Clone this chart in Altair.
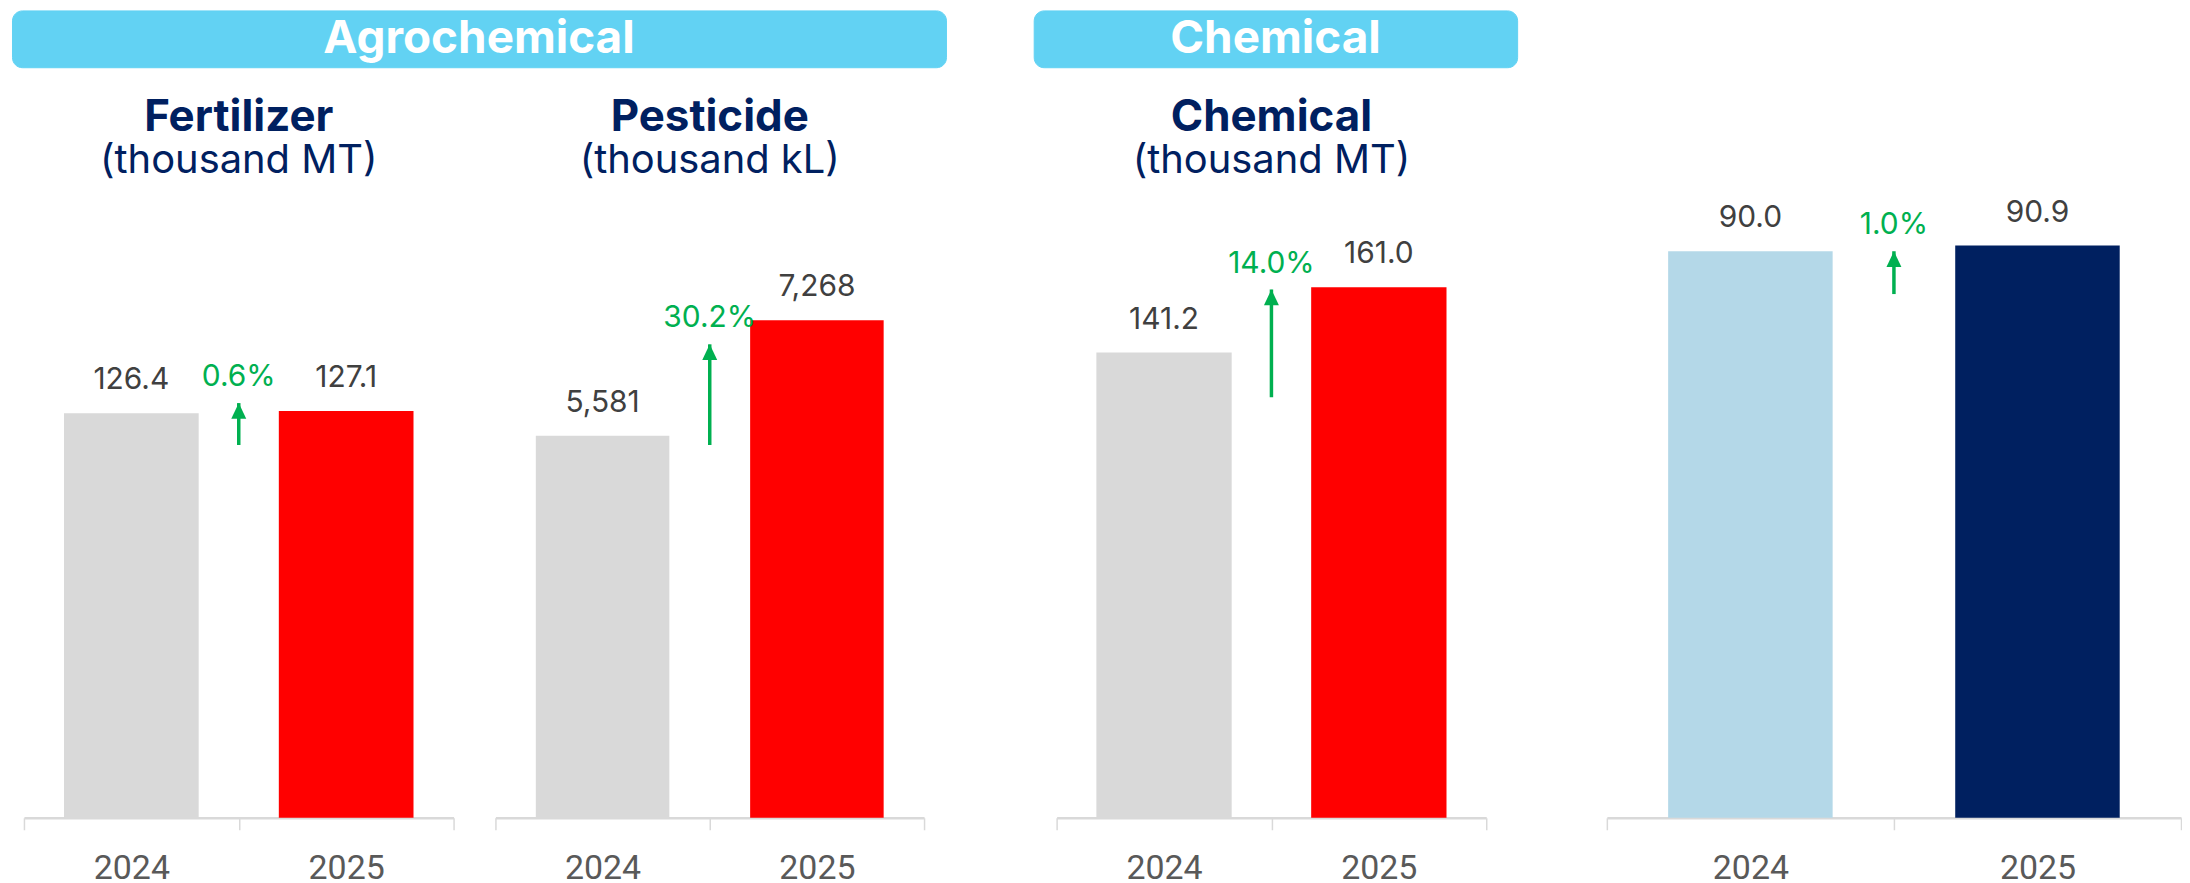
import altair as alt
import pandas as pd

# ---------------- data ----------------
years = ["2024", "2025"]
fert_values = [126.4, 127.1]
pest_values = [5581, 7268]
chem_values = [141.2, 161.0]
total_values = [90.0, 90.9]

growth_labels = ["0.6%", "30.2%", "14.0%", "1.0%"]
arrow_low = [116.5, 5447, 127.6, 83.2]
arrow_high = [129.6, 6918, 160.3, 90.0]
y_max = [192.2, 8986, 186.6, 97.7]

panel_titles = ["Fertilizer", "Pesticide", "Chemical"]
panel_units = ["(thousand MT)", "(thousand kL)", "(thousand MT)"]
banner_labels = ["Agrochemical", "Chemical"]
value_formats = [",.1f", ",.0f", ",.1f", ",.1f"]

# ---------------- styles ----------------
GRAY = "#d9d9d9"
RED = "#ff0000"
LIGHTBLUE = "#b4d8e8"
NAVY = "#002060"
GREEN = "#00b050"
BANNER = "#62d2f3"
H = 617
FONT = "Inter"


def make_panel(values, fmt, colors, growth, lo, hi, ymax, width, bar_band,
               title=None, unit=None, left_inset=0):
    bars_df = pd.DataFrame({"year": years, "value": values, "color": colors})
    arrow_df = pd.DataFrame({"year": ["2025"], "lo": [lo], "hi": [hi], "growth": [growth]})

    xaxis = alt.Axis(title=None, labelFontSize=34, labelColor="#595959", labelFont="Roboto",
                     labelPadding=22, tickSize=12, tickColor=GRAY, tickWidth=1.5,
                     domainColor=GRAY, domainWidth=2.5, tickBand="extent", labelAngle=0,
                     grid=False)
    if left_inset:
        xscale = alt.Scale(domain=years, paddingInner=0, paddingOuter=0,
                           range=[left_inset, width])
    else:
        xscale = alt.Scale(domain=years, paddingInner=0, paddingOuter=0)
    yscale = alt.Scale(domain=[0, ymax], nice=False, zero=True)

    def X(**kw):
        return alt.X("year:N", scale=xscale, axis=xaxis, **kw)

    def Y(field):
        return alt.Y(field, scale=yscale, axis=None)

    bars = alt.Chart(bars_df).mark_bar(width=alt.RelativeBandSize(bar_band)).encode(
        x=X(),
        y=Y("value:Q"),
        color=alt.Color("color:N", scale=None, legend=None),
    )
    labels = alt.Chart(bars_df).mark_text(font=FONT, fontSize=30, color="#404040",
                                          baseline="alphabetic", dy=-24).encode(
        x=X(),
        y=Y("value:Q"),
        text=alt.Text("value:Q", format=fmt),
    )
    shaft = alt.Chart(arrow_df).mark_rule(color=GREEN, strokeWidth=3.5).encode(
        x=X(bandPosition=0),
        y=Y("lo:Q"),
        y2="hi:Q",
    )
    head = alt.Chart(arrow_df).mark_point(shape="M0,0L-1,2.1L1,2.1Z", filled=True, size=225,
                                          color=GREEN, opacity=1, strokeWidth=0).encode(
        x=X(bandPosition=0),
        y=Y("hi:Q"),
    )
    pct = alt.Chart(arrow_df).mark_text(font=FONT, fontSize=30, color=GREEN,
                                        baseline="alphabetic", dy=-17).encode(
        x=X(bandPosition=0),
        y=Y("hi:Q"),
        text="growth:N",
    )
    layer = alt.layer(bars, labels, shaft, head, pct).properties(width=width, height=H)
    if title:
        layer = layer.properties(title=alt.TitleParams(
            text=title, subtitle=unit, font=FONT, fontSize=44, fontWeight="bold", color=NAVY,
            subtitleFont=FONT, subtitleFontSize=40, subtitleColor=NAVY,
            subtitleFontWeight="normal", subtitlePadding=1, offset=22, anchor="middle",
            dx=left_inset / 2))
    return layer


def make_banner(label, width):
    df = pd.DataFrame({"label": [label]})
    return alt.Chart(df).mark_text(font=FONT, fontSize=46, fontWeight="bold", color="white",
                                   baseline="middle").encode(
        text="label:N"
    ).properties(width=width, height=57,
                 view=alt.ViewBackground(fill=BANNER, stroke=BANNER, cornerRadius=10))


p1 = make_panel(fert_values, value_formats[0], [GRAY, RED], growth_labels[0], arrow_low[0],
                arrow_high[0], y_max[0], 443, 0.627, panel_titles[0], panel_units[0],
                left_inset=12)
p2 = make_panel(pest_values, value_formats[1], [GRAY, RED], growth_labels[1], arrow_low[1],
                arrow_high[1], y_max[1], 430, 0.623, panel_titles[1], panel_units[1])
p3 = make_panel(chem_values, value_formats[2], [GRAY, RED], growth_labels[2], arrow_low[2],
                arrow_high[2], y_max[2], 431, 0.63, panel_titles[2], panel_units[2])
p4 = make_panel(total_values, value_formats[3], [LIGHTBLUE, NAVY], growth_labels[3], arrow_low[3],
                arrow_high[3], y_max[3], 576, 0.573)

banner_row = alt.hconcat(make_banner(banner_labels[0], 937), make_banner(banner_labels[1], 485),
                         spacing=86, bounds="full")
panel_row = alt.hconcat(
    alt.hconcat(p1, p2, spacing=42, bounds="flush"),
    alt.hconcat(p3, p4, spacing=121, bounds="flush"),
    spacing=131, bounds="full",
)

chart = alt.vconcat(banner_row, panel_row, spacing=28, bounds="full").properties(
    padding={"left": 3, "top": 0, "right": 0, "bottom": 0}
).configure_view(strokeWidth=0)

chart.save("out.html", embed_options={"renderer": "svg", "actions": False})
